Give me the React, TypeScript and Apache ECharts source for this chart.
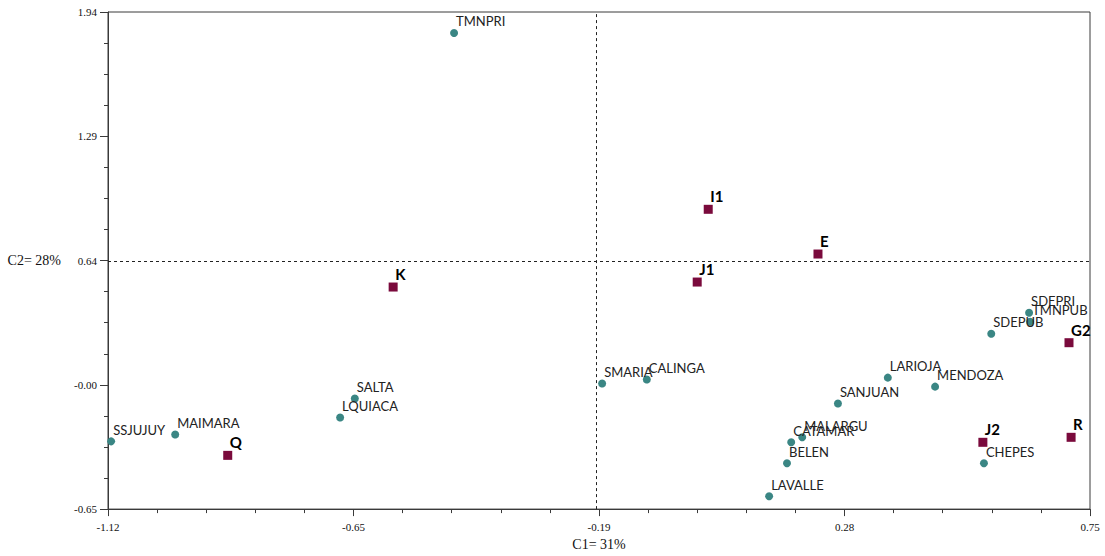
import React, { useEffect, useRef } from "react";
import * as echarts from "echarts";

// Sites (teal circles)
const siteNames = [
  "TMNPRI", "SSJUJUY", "MAIMARA", "LQUIACA", "SALTA", "SMARIA", "CALINGA",
  "SANJUAN", "MALARGU", "CATAMAR", "BELEN", "LAVALLE", "LARIOJA", "MENDOZA",
  "SDEPUB", "SDEPRI", "TMNPUB", "CHEPES",
];
const siteX = [
  -0.461, -1.114, -0.992, -0.678, -0.65, -0.179, -0.094,
  0.27, 0.202, 0.181, 0.173, 0.139, 0.365, 0.455,
  0.562, 0.634, 0.636, 0.548,
];
const siteY = [
  1.831, -0.297, -0.261, -0.173, -0.074, 0.004, 0.025,
  -0.1, -0.276, -0.302, -0.411, -0.583, 0.035, -0.012,
  0.264, 0.373, 0.326, -0.411,
];

// Groups (maroon squares)
const groupNames = ["I1", "E", "J1", "K", "Q", "G2", "J2", "R"];
const groupX = [0.023, 0.232, 0.002, -0.577, -0.892, 0.71, 0.546, 0.714];
const groupY = [0.912, 0.679, 0.533, 0.507, -0.37, 0.217, -0.302, -0.276];

// Axes
const xTickLabels = ["-1.12", "-0.65", "-0.19", "0.28", "0.75"];
const yTickLabels = ["-0.65", "-0.00", "0.64", "1.29", "1.94"];
const X_MIN = -1.12;
const X_MAX = 0.75;
const Y_MIN = -0.65;
const Y_MAX = 1.94;
const xAxisName = "C1= 31%";
const yAxisName = "C2= 28%";

export default function App() {
  const ref = useRef<HTMLDivElement>(null);

  useEffect(() => {
    if (!ref.current) return;
    const chart = echarts.init(ref.current, undefined, { renderer: "svg" });
    const xInterval = (X_MAX - X_MIN) / 4;
    const yInterval = (Y_MAX - Y_MIN) / 4;
    const xLabel = (v: number) =>
      xTickLabels[Math.round((v - X_MIN) / xInterval)] ?? "";
    const yLabel = (v: number) =>
      yTickLabels[Math.round((v - Y_MIN) / yInterval)] ?? "";

    const serif = "'Liberation Serif', 'DejaVu Serif', serif";
    const sans = "Lato, 'Noto Sans', sans-serif";

    const siteData = siteNames.map((n, i) => ({ name: n, value: [siteX[i], siteY[i]] }));
    const groupData = groupNames.map((n, i) => ({ name: n, value: [groupX[i], groupY[i]] }));

    chart.setOption({
      animation: false,
      backgroundColor: "#ffffff",
      grid: {
        left: 108,
        right: 15,
        top: 12,
        bottom: 45,
        show: true,
        borderColor: "#3a3a3a",
        borderWidth: 1,
        backgroundColor: "transparent",
      },
      xAxis: {
        type: "value",
        min: X_MIN,
        max: X_MAX,
        interval: xInterval,
        name: xAxisName,
        nameLocation: "middle",
        nameGap: 25,
        nameTextStyle: { fontFamily: serif, fontSize: 14, color: "#111" },
        axisLine: { show: true, onZero: false, lineStyle: { color: "#3a3a3a", width: 1 } },
        axisTick: { show: true, length: 7, lineStyle: { color: "#3a3a3a" } },
        minorTick: { show: true, splitNumber: 5, length: 4, lineStyle: { color: "#3a3a3a" } },
        axisLabel: {
          formatter: xLabel,
          fontFamily: serif,
          fontSize: 11,
          color: "#111",
          margin: 12,
        },
        splitLine: { show: false },
        minorSplitLine: { show: false },
      },
      yAxis: {
        type: "value",
        min: Y_MIN,
        max: Y_MAX,
        interval: yInterval,
        name: yAxisName,
        nameLocation: "middle",
        nameRotate: 0,
        nameGap: 47,
        nameTextStyle: { fontFamily: serif, fontSize: 14, color: "#111" },
        axisLine: { show: true, onZero: false, lineStyle: { color: "#3a3a3a", width: 1 } },
        axisTick: { show: true, length: 8, lineStyle: { color: "#3a3a3a" } },
        minorTick: { show: true, splitNumber: 4, length: 4, lineStyle: { color: "#3a3a3a" } },
        axisLabel: {
          formatter: yLabel,
          fontFamily: serif,
          fontSize: 11,
          color: "#111",
          margin: 11,
        },
        splitLine: { show: false },
        minorSplitLine: { show: false },
      },
      series: [
        {
          name: "Sites",
          type: "scatter",
          symbol: "circle",
          symbolSize: 8,
          itemStyle: { color: "#3a8684", opacity: 1 },
          data: siteData,
          label: {
            show: true,
            formatter: "{b}",
            position: "top",
            distance: 1,
            align: "left",
            offset: [2, 0],
            fontFamily: sans,
            fontSize: 13,
            color: "#222",
          },
          markLine: {
            silent: true,
            symbol: "none",
            label: { show: false },
            lineStyle: { color: "#222", type: [3, 3], width: 1 },
            data: [{ xAxis: X_MIN + 2 * xInterval }, { yAxis: Y_MIN + 2 * yInterval }],
          },
          z: 2,
        },
        {
          name: "Groups",
          type: "scatter",
          symbol: "rect",
          symbolSize: 9,
          itemStyle: { color: "#7a0a3c", opacity: 1 },
          data: groupData,
          label: {
            show: true,
            formatter: "{b}",
            position: "top",
            distance: 1,
            align: "left",
            offset: [2, 0],
            fontFamily: sans,
            fontSize: 15,
            fontWeight: "bold",
            color: "#000",
          },
          z: 3,
        },
      ],
    });
    return () => chart.dispose();
  }, []);

  return (
    <div
      ref={ref}
      style={{ position: "fixed", left: 0, top: 0, width: 1105, height: 556 }}
    />
  );
}
